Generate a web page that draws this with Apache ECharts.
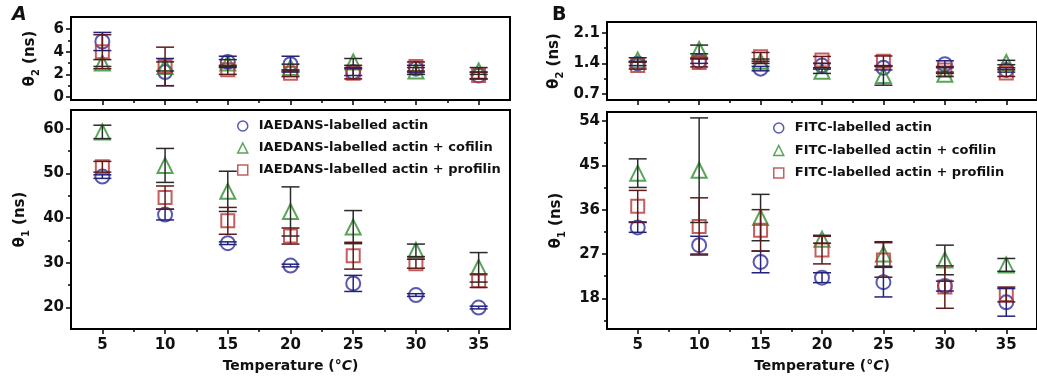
<!DOCTYPE html>
<html><head><meta charset="utf-8">
<script src="https://cdn.jsdelivr.net/npm/echarts@6/dist/echarts.min.js"></script>
<style>html,body{margin:0;padding:0;background:#fff}#c{width:1037px;height:378px}</style>
</head><body><div id="c"></div><script>
// ---------------- data ----------------
const temps = [5, 10, 15, 20, 25, 30, 35];
const xTickLabels = [5, 10, 15, 20, 25, 30, 35];
const xMinorTicks = [7.5, 12.5, 17.5, 22.5, 27.5, 32.5];

const namesA = ['IAEDANS-labelled actin', 'IAEDANS-labelled actin + cofilin', 'IAEDANS-labelled actin + profilin'];
const namesB = ['FITC-labelled actin', 'FITC-labelled actin + cofilin', 'FITC-labelled actin + profilin'];

// Panel A, theta2 (ns)
const aT2Actin    = [4.9, 2.2, 3.1, 2.9, 2.2, 2.5, 1.9];
const aT2ActinErr = [0.8, 1.2, 0.5, 0.7, 0.3, 0.3, 0.3];
const aT2Cof      = [3.0, 2.7, 3.0, 2.6, 3.1, 2.3, 2.3];
const aT2CofErr   = [0.3, 0.4, 0.3, 0.3, 0.3, 0.3, 0.3];
const aT2Prof     = [4.0, 2.7, 2.4, 2.1, 2.1, 2.7, 1.9];
const aT2ProfErr  = [1.5, 1.7, 0.4, 0.3, 0.5, 0.4, 0.3];
// Panel A, theta1 (ns)
const aT1Actin    = [49.3, 40.8, 34.4, 29.4, 25.4, 22.8, 20.0];
const aT1ActinErr = [0.4, 1.2, 0.3, 0.3, 1.8, 0.3, 0.3];
const aT1Cof      = [59.3, 51.8, 46.0, 41.5, 38.0, 32.8, 29.0];
const aT1CofErr   = [1.5, 3.8, 4.5, 5.5, 3.7, 1.4, 3.3];
const aT1Prof     = [51.5, 44.6, 39.4, 36.0, 31.6, 29.8, 26.0];
const aT1ProfErr  = [1.2, 2.6, 3.0, 1.8, 3.0, 1.0, 1.5];
// Panel B, theta2 (ns)
const bT2Actin    = [1.40, 1.45, 1.28, 1.35, 1.30, 1.38, 1.25];
const bT2ActinErr = [0.05, 0.05, 0.05, 0.05, 0.05, 0.08, 0.05];
const bT2Cof      = [1.48, 1.72, 1.45, 1.22, 1.12, 1.15, 1.42];
const bT2CofErr   = [0.05, 0.10, 0.05, 0.05, 0.22, 0.05, 0.05];
const bT2Prof     = [1.35, 1.42, 1.55, 1.48, 1.45, 1.25, 1.18];
const bT2ProfErr  = [0.08, 0.10, 0.10, 0.08, 0.12, 0.08, 0.08];
// Panel B, theta1 (ns)
const bT1Actin    = [32.4, 28.8, 25.4, 22.2, 21.3, 20.5, 17.2];
const bT1ActinErr = [1.0, 1.8, 2.2, 1.0, 3.0, 1.0, 2.8];
const bT1Cof      = [43.4, 44.0, 34.4, 30.0, 27.0, 25.8, 24.8];
const bT1CofErr   = [2.9, 10.6, 4.7, 0.8, 2.5, 3.0, 1.3];
const bT1Prof     = [36.7, 32.6, 31.8, 27.8, 25.8, 20.3, 18.8];
const bT1ProfErr  = [3.2, 5.8, 4.2, 2.8, 3.5, 4.3, 1.5];

// tick labels
const aT2Ticks = [0, 2, 4, 6],            aT2Minor = [1, 3, 5];
const aT1Ticks = [20, 30, 40, 50, 60],    aT1Minor = [25, 35, 45, 55];
const bT2Ticks = [0.7, 1.4, 2.1],         bT2Minor = [1.05, 1.75];
const bT1Ticks = [18, 27, 36, 45, 54],    bT1Minor = [13.5, 22.5, 31.5, 40.5, 49.5];

// ---------------- styling / layout ----------------
const FONT = 'DejaVu Sans';
const BLUE = '#2f2f9c', GREEN = '#2e8e2e', RED = '#b83434';
const BLUE_E = '#22227a', GREEN_E = '#2a2a2a', RED_E = '#5e1a1a';

const grids = [
  {left: 71,  top: 17,  width: 439, height: 83},
  {left: 71,  top: 110, width: 439, height: 223},
  {left: 607, top: 22,  width: 439, height: 78},
  {left: 607, top: 112, width: 439, height: 221}
];
const yCfg = [
  {min: -0.26, max: 7.06, ticks: aT2Ticks, minor: aT2Minor, sub: '2', gap: 30, fmt: v => String(v)},
  {min: 15.2,  max: 64.2, ticks: aT1Ticks, minor: aT1Minor, sub: '1', gap: 40, fmt: v => String(v)},
  {min: 0.56,  max: 2.35, ticks: bT2Ticks, minor: bT2Minor, sub: '2', gap: 42, fmt: v => v.toFixed(1)},
  {min: 11.8,  max: 55.8, ticks: bT1Ticks, minor: bT1Minor, sub: '1', gap: 40, fmt: v => String(v)}
];
const black = '#111';

const xAxis = [], yAxis = [];
grids.forEach((g, gi) => {
  g.show = true; g.borderColor = '#000'; g.borderWidth = 2; g.containLabel = false;
  const isBottom = (gi === 1 || gi === 3);
  xAxis.push({
    type: 'value', gridIndex: gi, min: 2.5, max: 37.5, position: 'bottom',
    axisLine: {show: true, onZero: false, lineStyle: {color: '#000', width: 2}},
    axisTick: {show: true, customValues: xTickLabels, length: 5, lineStyle: {color: '#000', width: 1.5}},
    axisLabel: {show: isBottom, customValues: xTickLabels, margin: 9,
      fontFamily: FONT, fontWeight: 'bold', fontSize: 15, color: black},
    splitLine: {show: false},
    name: isBottom ? '{a|Temperature (}{b|°C}{a|)}' : '',
    nameLocation: 'middle', nameGap: 30,
    nameTextStyle: {rich: {
      a: {fontFamily: FONT, fontWeight: 'bold', fontSize: 14, color: black},
      b: {fontFamily: FONT, fontWeight: 'bold', fontStyle: 'italic', fontSize: 14, color: black}
    }}
  });
  xAxis.push({
    type: 'value', gridIndex: gi, min: 2.5, max: 37.5, position: 'bottom',
    axisLine: {show: false, onZero: false},
    axisTick: {show: true, customValues: xMinorTicks, length: 3, lineStyle: {color: '#000', width: 1.5}},
    axisLabel: {show: false}, splitLine: {show: false}
  });
  const c = yCfg[gi];
  yAxis.push({
    type: 'value', gridIndex: gi, min: c.min, max: c.max, position: 'left',
    axisLine: {show: true, onZero: false, lineStyle: {color: '#000', width: 2}},
    axisTick: {show: true, customValues: c.ticks, length: 5, lineStyle: {color: '#000', width: 1.5}},
    axisLabel: {show: true, customValues: c.ticks, margin: 7, formatter: c.fmt,
      fontFamily: FONT, fontWeight: 'bold', fontSize: 15, color: black},
    splitLine: {show: false},
    name: '{t|θ}{s|' + c.sub + '}{t| (ns)}',
    nameLocation: 'middle', nameRotate: 90, nameGap: c.gap,
    nameTextStyle: {rich: {
      t: {fontFamily: FONT, fontWeight: 'bold', fontSize: 15, color: black, lineHeight: 22, verticalAlign: 'middle'},
      s: {fontFamily: FONT, fontWeight: 'bold', fontSize: 10, color: black, lineHeight: 12, verticalAlign: 'bottom'}
    }}
  });
  yAxis.push({
    type: 'value', gridIndex: gi, min: c.min, max: c.max, position: 'left',
    axisLine: {show: false, onZero: false},
    axisTick: {show: true, customValues: c.minor, length: 3, lineStyle: {color: '#000', width: 1.5}},
    axisLabel: {show: false}, splitLine: {show: false}
  });
});

function errSeries(gi, vals, errs, color) {
  return {
    type: 'custom', xAxisIndex: gi * 2, yAxisIndex: gi * 2, z: 4, silent: true,
    data: temps.map((t, i) => [t, vals[i], errs[i]]),
    renderItem: (params, api) => {
      const x = api.value(0), y = api.value(1), e = api.value(2);
      const top = api.coord([x, y + e]), bot = api.coord([x, y - e]);
      const hw = 9;
      const st = {stroke: color, lineWidth: 1.5};
      return {type: 'group', children: [
        {type: 'line', shape: {x1: top[0], y1: top[1], x2: bot[0], y2: bot[1]}, style: st},
        {type: 'line', shape: {x1: top[0] - hw, y1: top[1], x2: top[0] + hw, y2: top[1]}, style: st},
        {type: 'line', shape: {x1: bot[0] - hw, y1: bot[1], x2: bot[0] + hw, y2: bot[1]}, style: st}
      ]};
    }
  };
}
function ptSeries(gi, name, vals, symbol, size, color) {
  return {
    type: 'scatter', name: name, xAxisIndex: gi * 2, yAxisIndex: gi * 2, z: 3,
    data: temps.map((t, i) => [t, vals[i]]),
    symbol: symbol, symbolSize: size,
    itemStyle: {color: 'rgba(255,255,255,0)', borderColor: color, borderWidth: 2},
    emphasis: {disabled: true}
  };
}

const series = [
  // A top
  ptSeries(0, namesA[0], aT2Actin, 'circle', 14, BLUE),
  ptSeries(0, namesA[1], aT2Cof, 'triangle', 15, GREEN),
  ptSeries(0, namesA[2], aT2Prof, 'rect', 13, RED),
  errSeries(0, aT2Actin, aT2ActinErr, BLUE_E),
  errSeries(0, aT2Cof, aT2CofErr, GREEN_E),
  errSeries(0, aT2Prof, aT2ProfErr, RED_E),
  // A bottom
  ptSeries(1, namesA[0], aT1Actin, 'circle', 14, BLUE),
  ptSeries(1, namesA[1], aT1Cof, 'triangle', 15, GREEN),
  ptSeries(1, namesA[2], aT1Prof, 'rect', 13, RED),
  errSeries(1, aT1Actin, aT1ActinErr, BLUE_E),
  errSeries(1, aT1Cof, aT1CofErr, GREEN_E),
  errSeries(1, aT1Prof, aT1ProfErr, RED_E),
  // B top
  ptSeries(2, namesB[0], bT2Actin, 'circle', 14, BLUE),
  ptSeries(2, namesB[1], bT2Cof, 'triangle', 15, GREEN),
  ptSeries(2, namesB[2], bT2Prof, 'rect', 13, RED),
  errSeries(2, bT2Actin, bT2ActinErr, BLUE_E),
  errSeries(2, bT2Cof, bT2CofErr, GREEN_E),
  errSeries(2, bT2Prof, bT2ProfErr, RED_E),
  // B bottom
  ptSeries(3, namesB[0], bT1Actin, 'circle', 14, BLUE),
  ptSeries(3, namesB[1], bT1Cof, 'triangle', 15, GREEN),
  ptSeries(3, namesB[2], bT1Prof, 'rect', 13, RED),
  errSeries(3, bT1Actin, bT1ActinErr, BLUE_E),
  errSeries(3, bT1Cof, bT1CofErr, GREEN_E),
  errSeries(3, bT1Prof, bT1ProfErr, RED_E)
];

function legendData(names) {
  const icons = ['circle', 'triangle', 'rect'], cols = [BLUE, GREEN, RED];
  return names.map((n, i) => ({name: n, icon: icons[i],
    itemStyle: {color: 'rgba(255,255,255,0)', borderColor: cols[i], borderWidth: 1.5}}));
}
const legendText = {fontFamily: FONT, fontWeight: 'bold', fontSize: 13, color: black, lineHeight: 14, padding: [0, 0, 0, 6]};

const option = {
  animation: false,
  backgroundColor: '#fff',
  grid: grids,
  xAxis: xAxis,
  yAxis: yAxis,
  legend: [
    {data: legendData(namesA), orient: 'vertical', left: 232, top: 114, itemWidth: 10, itemHeight: 10,
     itemGap: 8, selectedMode: false, textStyle: legendText},
    {data: legendData(namesB), orient: 'vertical', left: 768, top: 116, itemWidth: 10, itemHeight: 10,
     itemGap: 8.5, selectedMode: false, textStyle: legendText}
  ],
  graphic: [
    {type: 'text', left: 12, top: 6, style: {text: 'A', fontFamily: FONT, fontWeight: 'bold', fontStyle: 'italic', fontSize: 19, fill: black}},
    {type: 'text', left: 552, top: 6, style: {text: 'B', fontFamily: FONT, fontWeight: 'bold', fontSize: 19, fill: black}}
  ],
  series: series
};
const chart = echarts.init(document.getElementById('c'), null, {renderer: 'canvas'});
chart.setOption(option);
</script></body></html>
